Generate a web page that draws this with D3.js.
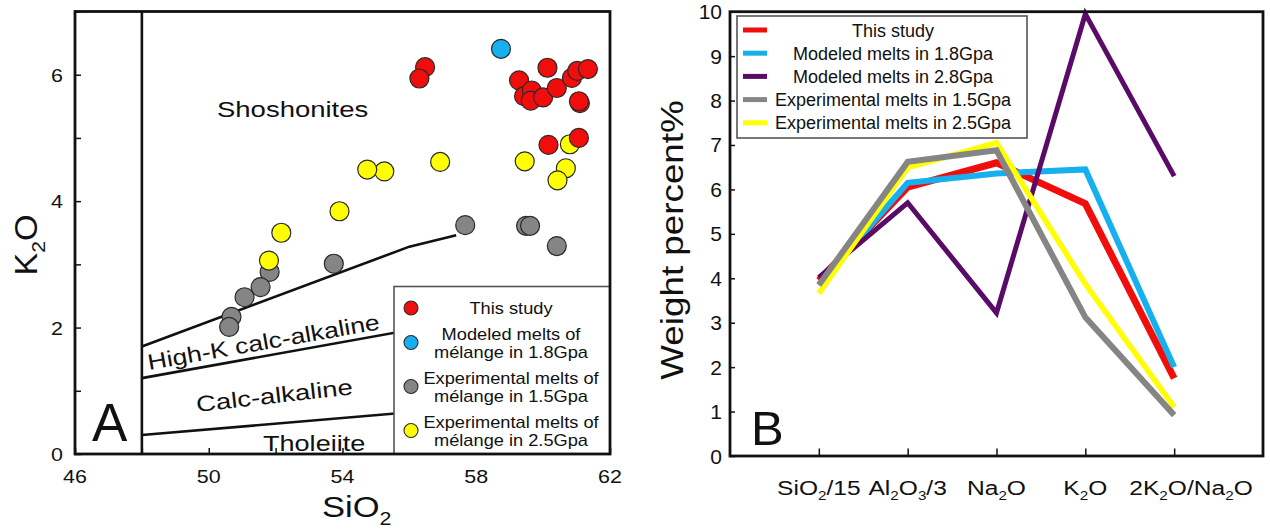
<!DOCTYPE html>
<html><head><meta charset="utf-8">
<script src="https://cdn.jsdelivr.net/npm/d3@7"></script>
<style>
body{margin:0;background:#fff}
svg{display:block}
text{font-family:"Liberation Sans",Arial,Helvetica,sans-serif;fill:#111}
</style>
</head><body>
<svg id="c" width="1270" height="531"></svg>
<script>
// ---------- Panel A data (SiO2, K2O) ----------
const thisStudyPts = [[56.47,6.12],[56.30,5.94],[60.13,6.11],[59.28,5.91],[59.43,5.66],[59.66,5.75],
  [59.63,5.59],[60.00,5.64],[60.41,5.79],[60.86,5.95],[61.02,6.06],[61.34,6.09],[61.10,5.55],[61.07,5.58],
  [60.16,4.89],[61.07,5.00]];
const modeled18Pts = [[58.74,6.41]];
const exp15Pts = [[57.67,3.62],[53.74,3.01],[51.82,2.88],[51.55,2.64],[51.07,2.48],[50.68,2.17],[50.61,2.01],
  [59.49,3.61],[59.61,3.61],[60.41,3.29]];
const exp25Pts = [[55.25,4.47],[56.92,4.62],[59.45,4.63],[60.80,4.90],[60.68,4.52],[60.43,4.33],[54.74,4.50],
  [53.91,3.84],[52.17,3.50],[51.80,3.06]];
const boundaryShoshonite = [[48,1.7],[56,3.28],[57.4,3.46]];
const boundaryHighK = [[48,1.2],[62,2.53]];
const boundaryTholeiite = [[48,0.3],[62,0.93]];
const xTicksA = [46,48,50,52,54,56,58,60,62];
const xLabelsA = [46,50,54,58,62];
const yTicksA = [0,1,2,3,4,5,6,7];
const yLabelsA = [0,2,4,6];
const legendLabelsA = [["This study"],["Modeled melts of","mélange in 1.8Gpa"],
  ["Experimental melts of","mélange in 1.5Gpa"],["Experimental melts of","mélange in 2.5Gpa"]];

// ---------- Panel B data ----------
const categoriesB = ["SiO2/15","Al2O3/3","Na2O","K2O","2K2O/Na2O"];
const thisStudyB = [3.95,6.05,6.60,5.68,1.75];
const modeled18B = [3.85,6.15,6.36,6.45,2.00];
const modeled28B = [4.02,5.70,3.22,9.95,6.30];
const exp15B = [3.85,6.62,6.88,3.12,0.92];
const exp25B = [3.66,6.49,7.05,3.87,1.10];
const yTicksB = [0,1,2,3,4,5,6,7,8,9,10];
const legendLabelsB = ["This study","Modeled melts in 1.8Gpa","Modeled melts in 2.8Gpa",
  "Experimental melts in 1.5Gpa","Experimental melts in 2.5Gpa"];

// ---------- styles ----------
const RED="#f20d0d", BLUE="#17b0ee", PURPLE="#5a0b68", GRAY="#858585", YELLOW="#ffff00";
const INK="#111";

const svg = d3.select("#c");

function label(g, str, o){
  const size=o.size, sx=o.sx||1, rot=o.rot||0;
  const t = g.append("text")
    .attr("transform",`translate(${o.x},${o.y}) rotate(${rot}) scale(${sx},1)`)
    .attr("text-anchor",o.anchor||"start")
    .style("font-size",size+"px");
  const runs=[];
  for(let i=0;i<str.length;i++){
    const c=str[i];
    const sub = o.sub!==false && /\d/.test(c) && i>0 && /[A-Za-z]/.test(str[i-1]);
    if(runs.length && runs[runs.length-1].sub===sub) runs[runs.length-1].s+=c;
    else runs.push({s:c,sub});
  }
  let shifted=false;
  runs.forEach(r=>{
    const ts=t.append("tspan").text(r.s);
    if(r.sub){ ts.style("font-size",(size*0.62)+"px").attr("dy",size*0.26); shifted=true; }
    else if(shifted){ ts.attr("dy",-size*0.26); shifted=false; }
  });
  return t;
}

// ================= PANEL A =================
const xA = d3.scaleLinear().domain([46,62]).range([75,610]);
const yA = d3.scaleLinear().domain([0,7]).range([454,11.5]);
const gA = svg.append("g");
const lineA = d3.line().x(d=>xA(d[0])).y(d=>yA(d[1]));

[boundaryShoshonite,boundaryHighK,boundaryTholeiite].forEach(b=>{
  gA.append("path").attr("d",lineA(b)).attr("fill","none").attr("stroke",INK).attr("stroke-width",2.6);
});
gA.append("line").attr("x1",xA(48)).attr("x2",xA(48)).attr("y1",yA(0)).attr("y2",yA(7))
  .attr("stroke",INK).attr("stroke-width",2.6);

const axL = gA.append("g").attr("transform",`translate(${xA(46)},0)`)
  .call(d3.axisLeft(yA).tickValues(yTicksA).tickSize(-6).tickFormat(""));
const axB = gA.append("g").attr("transform",`translate(0,${yA(0)})`)
  .call(d3.axisBottom(xA).tickValues(xTicksA).tickSize(-6).tickFormat(""));
[axL,axB].forEach(a=>{a.select(".domain").remove();a.selectAll("line").attr("stroke",INK).attr("stroke-width",1.5);});

label(gA,"Shoshonites",{x:217,y:117,size:22,sx:1.25,sub:false});
label(gA,"High-K calc-alkaline",{x:149,y:370,size:22,sx:1.21,rot:-10,sub:false});
label(gA,"Calc-alkaline",{x:197,y:412,size:22,sx:1.25,rot:-6.5,sub:false});
label(gA,"Tholeiite",{x:263,y:451,size:22,sx:1.23,sub:false});
label(gA,"A",{x:92,y:441,size:53});

function dots(data,color){
  gA.append("g").selectAll("circle").data(data).join("circle")
    .attr("cx",d=>xA(d[0])).attr("cy",d=>yA(d[1])).attr("r",9.5)
    .attr("fill",color).attr("stroke","#2a2a2a").attr("stroke-width",1.2);
}
dots(exp15Pts,GRAY);
dots(exp25Pts,YELLOW);
dots(thisStudyPts,RED);
dots(modeled18Pts,BLUE);

// legend A
gA.append("rect").attr("x",394).attr("y",286.5).attr("width",216).attr("height",167.5)
  .attr("fill","#fff").attr("stroke","#555").attr("stroke-width",1.6);
const colorsA=[RED,BLUE,GRAY,YELLOW];
let ly=314;
legendLabelsA.forEach((lines,i)=>{
  const my = ly-6+(lines.length-1)*9;
  gA.append("circle").attr("cx",411).attr("cy",my).attr("r",7)
    .attr("fill",colorsA[i]).attr("stroke","#2a2a2a").attr("stroke-width",1.1);
  lines.forEach((s,j)=>{
    label(gA,s,{x:511,y:ly+j*18.5,size:16,sx:1.14,anchor:"middle",sub:false});
  });
  ly += lines.length*18.5 + 7;
});

gA.append("rect").attr("x",xA(46)).attr("y",yA(7)).attr("width",xA(62)-xA(46)).attr("height",yA(0)-yA(7))
  .attr("fill","none").attr("stroke",INK).attr("stroke-width",2.8);

xLabelsA.forEach(v=>label(gA,String(v),{x:xA(v),y:483,size:19,sx:1.13,anchor:"middle",sub:false}));
yLabelsA.forEach(v=>label(gA,String(v),{x:63,y:yA(v)+7,size:19,sx:1.13,anchor:"end",sub:false}));

label(gA,"SiO2",{x:322,y:517,size:30,sx:1.15});
label(gA,"K2O",{x:37,y:245,size:31,sx:1.1,rot:-90,anchor:"middle"});

// ================= PANEL B =================
const xB = d3.scalePoint().domain(categoriesB).range([730,1263]).padding(1);
const yB = d3.scaleLinear().domain([0,10]).range([456,11.7]);
const gB = svg.append("g");

const axLB = gB.append("g").attr("transform",`translate(730,0)`)
  .call(d3.axisLeft(yB).tickValues(yTicksB).tickSize(-5).tickFormat(""));
const axBB = gB.append("g").attr("transform",`translate(0,${yB(0)})`)
  .call(d3.axisBottom(xB).tickSize(-7.5).tickFormat(""));
[axLB,axBB].forEach(a=>{a.select(".domain").remove();a.selectAll("line").attr("stroke",INK).attr("stroke-width",1.5);});

const lineB = d3.line().x((d,i)=>xB(categoriesB[i])).y(d=>yB(d));
const seriesB = [
  {v:thisStudyB,c:RED,w:7},
  {v:modeled18B,c:BLUE,w:6},
  {v:modeled28B,c:PURPLE,w:5},
  {v:exp25B,c:YELLOW,w:5.5},
  {v:exp15B,c:GRAY,w:6}
];
seriesB.forEach(s=>{
  gB.append("path").attr("d",lineB(s.v)).attr("fill","none").attr("stroke",s.c)
    .attr("stroke-width",s.w).attr("stroke-linejoin","miter").attr("stroke-miterlimit",10);
});

gB.append("rect").attr("x",737).attr("y",16).attr("width",290).attr("height",122)
  .attr("fill","#fff").attr("stroke","#555").attr("stroke-width",1.6);
const colorsB=[RED,BLUE,PURPLE,GRAY,YELLOW];
legendLabelsB.forEach((s,i)=>{
  const y=30+i*23.2;
  gB.append("line").attr("x1",743).attr("x2",767).attr("y1",y).attr("y2",y)
    .attr("stroke",colorsB[i]).attr("stroke-width",5);
  label(gB,s,{x:893,y:y+6.5,size:18,anchor:"middle",sub:false});
});

label(gB,"B",{x:751,y:445,size:49});

gB.append("rect").attr("x",730).attr("y",yB(10)).attr("width",533).attr("height",yB(0)-yB(10))
  .attr("fill","none").attr("stroke",INK).attr("stroke-width",2.8);

yTicksB.forEach(v=>label(gB,String(v),{x:722,y:yB(v)+7.5,size:21,anchor:"end",sub:false}));
let prevRight=-Infinity;
categoriesB.forEach((c,i)=>{
  const sx=1.17;
  const t=label(gB,c,{x:xB(c),y:495,size:21,sx,anchor:"middle"});
  const w=t.node().getBBox().width*sx;
  let cx=xB(c);
  if(i===categoriesB.length-1 && cx-w/2<prevRight+22){
    cx=prevRight+22+w/2;
    t.attr("transform",`translate(${cx},495) scale(${sx},1)`);
  }
  prevRight=cx+w/2;
});

label(gB,"Weight percent%",{x:683,y:240,size:32,sx:1.15,rot:-90,anchor:"middle",sub:false});
</script>
</body></html>
